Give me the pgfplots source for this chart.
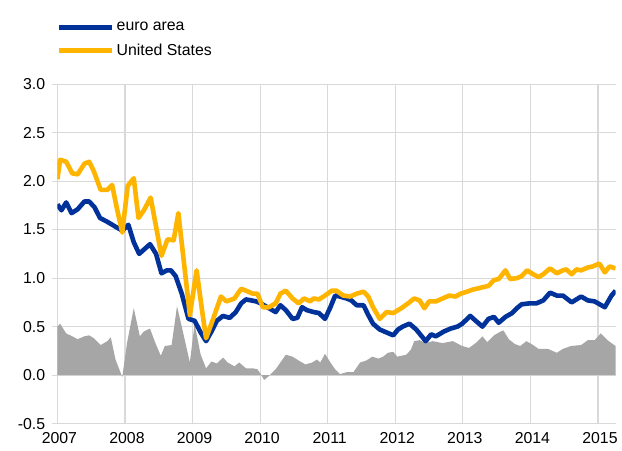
\documentclass[border=0pt]{standalone}
\usepackage{pgfplots}
\pgfplotsset{compat=1.18}
\usepackage{fontspec}
\setmainfont{Liberation Sans}
\definecolor{eablue}{RGB}{0,50,153}
\definecolor{usyellow}{RGB}{255,180,0}
\definecolor{spread}{RGB}{166,166,166}
\definecolor{gridc}{RGB}{217,217,217}
\begin{document}
\begin{tikzpicture}
\begin{axis}[
  scale only axis, width=423pt, height=257.25pt,
  xmin=2007, xmax=2015.26, ymin=-0.5, ymax=3,
  axis line style={draw=none},
  xtick={2007,2008,2009,2010,2011,2012,2013,2014,2015},
  xticklabels={2007,2008,2009,2010,2011,2012,2013,2014,2015},
  ytick={-0.5,0,0.5,1,1.5,2,2.5,3},
  yticklabels={-0.5,0.0,0.5,1.0,1.5,2.0,2.5,3.0},
  grid=major, major grid style={gridc, line width=0.9pt},
  tick style={gridc, line width=0.9pt},
  tick pos=left, xtick align=inside, ytick align=outside,
  major tick length=3.75pt,
  tick label style={font=\fontsize{12}{14}\selectfont, text=black},
  xticklabel style={yshift=-3.5pt, xshift=1.5pt},
  yticklabel style={xshift=-2pt},
  legend style={at={(0,1)}, anchor=south west, yshift=16pt, xshift=-4pt,
    draw=none, fill=none, font=\fontsize{12}{14}\selectfont,
    row sep=4.75pt, cells={anchor=west}},
  legend image code/.code={\draw[#1, line width=3.75pt] (0pt,0pt) -- (40pt,0pt);},
  legend cell align=left,
]
\addplot[fill=spread, draw=none, forget plot] coordinates {
(2007.00,0.50) (2007.04,0.53) (2007.13,0.43) (2007.22,0.40) (2007.30,0.37)
(2007.40,0.40) (2007.47,0.41) (2007.54,0.38) (2007.64,0.31) (2007.74,0.35)
(2007.79,0.39) (2007.86,0.16) (2007.96,-0.02) (2008.03,0.33) (2008.13,0.69)
(2008.22,0.40) (2008.28,0.45) (2008.37,0.48) (2008.45,0.33) (2008.53,0.20)
(2008.59,0.30) (2008.69,0.31) (2008.77,0.71) (2008.84,0.50) (2008.96,0.13)
(2009.03,0.53) (2009.12,0.21) (2009.20,0.07) (2009.28,0.14) (2009.36,0.12)
(2009.45,0.18) (2009.52,0.13) (2009.62,0.09) (2009.69,0.13) (2009.79,0.07)
(2009.89,0.07) (2009.96,0.06) (2010.01,0.01) (2010.06,-0.05) (2010.13,-0.01)
(2010.23,0.06) (2010.33,0.16) (2010.38,0.21) (2010.48,0.19) (2010.57,0.15)
(2010.67,0.11) (2010.77,0.13) (2010.84,0.16) (2010.89,0.13) (2010.96,0.22)
(2011.04,0.13) (2011.11,0.06) (2011.18,0.01) (2011.28,0.03) (2011.38,0.03)
(2011.48,0.13) (2011.57,0.15) (2011.66,0.19) (2011.75,0.17) (2011.82,0.19)
(2011.89,0.23) (2011.97,0.24) (2012.03,0.19) (2012.16,0.21) (2012.23,0.26)
(2012.28,0.35) (2012.36,0.36) (2012.45,0.33) (2012.55,0.35) (2012.70,0.33)
(2012.85,0.35) (2012.99,0.30) (2013.09,0.28) (2013.19,0.33) (2013.29,0.40)
(2013.36,0.34) (2013.46,0.41) (2013.56,0.45) (2013.60,0.46) (2013.68,0.37)
(2013.77,0.32) (2013.85,0.30) (2013.94,0.35) (2014.04,0.31) (2014.12,0.27)
(2014.26,0.27) (2014.39,0.23) (2014.48,0.27) (2014.60,0.30) (2014.75,0.31)
(2014.85,0.36) (2014.95,0.36) (2015.04,0.43) (2015.14,0.36) (2015.26,0.30)
} \closedcycle;
\addplot[eablue, line width=3.5pt, line join=round] coordinates {
(2007.00,1.76) (2007.06,1.70) (2007.13,1.78) (2007.21,1.67) (2007.30,1.71)
(2007.40,1.79) (2007.47,1.79) (2007.55,1.73) (2007.63,1.62) (2007.74,1.58)
(2007.86,1.53) (2007.96,1.49) (2008.05,1.55) (2008.13,1.37) (2008.21,1.25)
(2008.29,1.30) (2008.37,1.35) (2008.46,1.25) (2008.54,1.05) (2008.62,1.08)
(2008.68,1.08) (2008.75,1.02) (2008.84,0.84) (2008.94,0.58) (2009.03,0.56)
(2009.12,0.44) (2009.20,0.35) (2009.28,0.45) (2009.36,0.56) (2009.45,0.61)
(2009.55,0.59) (2009.64,0.65) (2009.72,0.74) (2009.79,0.78) (2009.87,0.77)
(2009.94,0.76) (2010.01,0.74) (2010.13,0.69) (2010.23,0.65) (2010.30,0.72)
(2010.38,0.67) (2010.48,0.58) (2010.55,0.59) (2010.62,0.70) (2010.69,0.67)
(2010.79,0.65) (2010.87,0.64) (2010.96,0.58) (2011.04,0.70) (2011.11,0.82)
(2011.18,0.81) (2011.28,0.79) (2011.35,0.77) (2011.43,0.72) (2011.53,0.72)
(2011.60,0.62) (2011.67,0.53) (2011.77,0.47) (2011.87,0.44) (2011.97,0.41)
(2012.04,0.47) (2012.11,0.50) (2012.21,0.53) (2012.31,0.47) (2012.38,0.41)
(2012.45,0.35) (2012.53,0.42) (2012.60,0.40) (2012.72,0.45) (2012.82,0.48)
(2012.92,0.50) (2012.99,0.53) (2013.11,0.61) (2013.19,0.56) (2013.29,0.50)
(2013.38,0.58) (2013.46,0.60) (2013.53,0.54) (2013.63,0.60) (2013.73,0.64)
(2013.80,0.69) (2013.87,0.73) (2013.99,0.74) (2014.09,0.74) (2014.19,0.77)
(2014.29,0.85) (2014.39,0.82) (2014.48,0.82) (2014.61,0.75) (2014.75,0.81)
(2014.85,0.77) (2014.95,0.76) (2015.10,0.70) (2015.20,0.82) (2015.26,0.87)
};
\addlegendentry{euro area}
\addplot[usyellow, line width=3.5pt, line join=round] coordinates {
(2007.00,2.02) (2007.04,2.22) (2007.13,2.20) (2007.22,2.08) (2007.30,2.07)
(2007.40,2.18) (2007.47,2.20) (2007.54,2.10) (2007.64,1.91) (2007.74,1.91)
(2007.81,1.96) (2007.88,1.72) (2007.96,1.47) (2008.04,1.95) (2008.13,2.03)
(2008.20,1.62) (2008.28,1.70) (2008.38,1.83) (2008.54,1.23) (2008.63,1.40)
(2008.72,1.39) (2008.79,1.67) (2008.96,0.62) (2009.06,1.08) (2009.14,0.67)
(2009.20,0.38) (2009.30,0.57) (2009.42,0.81) (2009.50,0.76) (2009.62,0.79)
(2009.72,0.89) (2009.79,0.87) (2009.89,0.84) (2009.96,0.84) (2010.04,0.70)
(2010.13,0.70) (2010.23,0.74) (2010.30,0.84) (2010.38,0.87) (2010.48,0.79)
(2010.57,0.74) (2010.65,0.79) (2010.74,0.76) (2010.79,0.79) (2010.87,0.78)
(2010.96,0.82) (2011.06,0.87) (2011.13,0.87) (2011.23,0.82) (2011.33,0.81)
(2011.43,0.84) (2011.53,0.86) (2011.60,0.81) (2011.67,0.70) (2011.77,0.58)
(2011.87,0.65) (2011.97,0.64) (2012.09,0.69) (2012.19,0.74) (2012.28,0.79)
(2012.36,0.77) (2012.43,0.69) (2012.50,0.76) (2012.60,0.76) (2012.70,0.79)
(2012.80,0.82) (2012.89,0.81) (2012.97,0.84) (2013.06,0.86) (2013.14,0.88)
(2013.26,0.90) (2013.38,0.92) (2013.46,0.98) (2013.53,0.99) (2013.63,1.08)
(2013.70,0.99) (2013.80,1.00) (2013.87,1.02) (2013.95,1.08) (2014.04,1.04)
(2014.12,1.01) (2014.19,1.04) (2014.29,1.10) (2014.39,1.05) (2014.48,1.08)
(2014.53,1.09) (2014.61,1.04) (2014.68,1.09) (2014.75,1.08) (2014.85,1.11)
(2014.92,1.12) (2015.02,1.15) (2015.10,1.06) (2015.17,1.12) (2015.26,1.10)
};
\addlegendentry{United States}
\end{axis}
\path (current axis.south west) ++(-43.5pt,-20.25pt) rectangle ++(466.5pt,341.25pt);
\end{tikzpicture}
\end{document}
